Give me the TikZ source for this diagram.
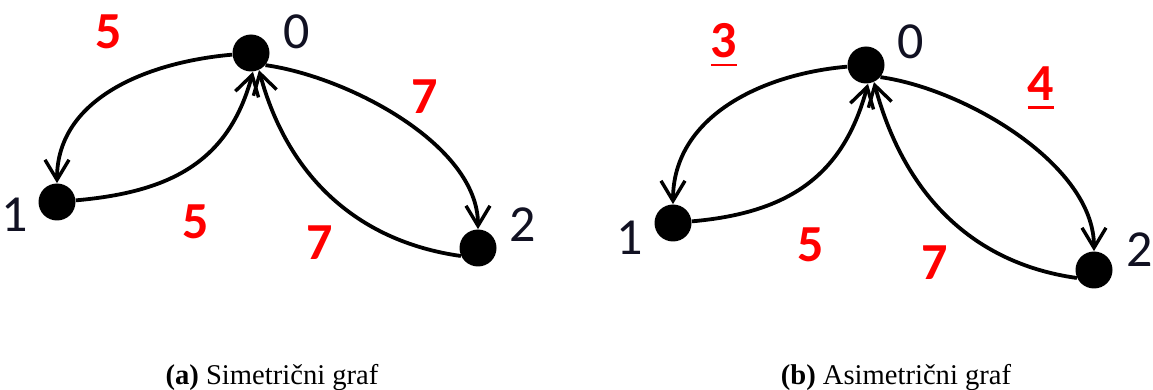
\documentclass[tikz,border=0pt]{standalone}
\usepackage{fontspec}
\setmainfont{Liberation Serif}
\newfontfamily\digitfont{Carlito}
\usepackage{xcolor}
\usetikzlibrary{arrows.meta}
\definecolor{ink}{HTML}{111122}
\definecolor{wred}{HTML}{FF0000}
\newcommand{\wline}[1]{\leavevmode\setbox0=\hbox{#1}\rlap{\copy0}\raisebox{-4.2pt}{\rule{\wd0}{1.3pt}}}
\tikzset{
  vert/.style={circle,fill=black,inner sep=0pt,minimum size=18.5pt},
  vlbl/.style={font=\digitfont\fontsize{26}{26}\selectfont,text=ink,inner sep=0pt},
  wlbl/.style={font=\digitfont\bfseries\fontsize{26}{26}\selectfont,text=wred,inner sep=0pt},
  arc/.style={-{Straight Barb[length=10pt,width=12pt,line width=1.7pt]},line width=1.9pt},
  caplbl/.style={font=\fontsize{14.3}{16}\selectfont,anchor=base,inner sep=0pt},
}

\begin{document}
\begin{tikzpicture}[x=0.5pt,y=0.5pt]
  \useasboundingbox (0,0) rectangle (1153,-390);

  % (a) symmetric graph
  \node[vert] (a0) at (251,-53) {};
  \node[vert] (a1) at (57,-202) {};
  \node[vert] (a2) at (478,-248) {};
  \node[vlbl] (a0l) at (297,-32) {0};
  \node[vlbl] (a1l) at (15,-215) {1};
  \node[vlbl] (a2l) at (523,-225) {2};
  \draw[arc] (a0.185) to[out=185,in=90] (a1.90);
  \draw[arc] (a1.5) to[out=5,in=255,looseness=1.1] (a0.276);
  \draw[arc] (a0.-40) to[out=-8,in=90,looseness=0.8] (a2.90);
  \draw[arc] (a2.205) to[out=172,in=-75] (a0.-65);
  \node[wlbl] (a01w) at (109,-32) {5};
  \node[wlbl] (a02w) at (425,-97) {7};
  \node[wlbl] (a10w) at (196,-222) {5};
  \node[wlbl] (a20w) at (320,-243) {7};
  \node[caplbl] (acap) at (272,-384) {\textbf{(a)} Simetrični graf};

  % (b) asymmetric graph
  \node[vert] (b0) at (866,-65) {};
  \node[vert] (b1) at (673,-223) {};
  \node[vert] (b2) at (1094,-270) {};
  \node[vlbl] (b0l) at (911,-42) {0};
  \node[vlbl] (b1l) at (630,-238) {1};
  \node[vlbl] (b2l) at (1140,-250) {2};
  \draw[arc] (b0.185) to[out=185,in=90] (b1.90);
  \draw[arc] (b1.5) to[out=5,in=255,looseness=1.1] (b0.276);
  \draw[arc] (b0.-40) to[out=-8,in=90,looseness=0.8] (b2.90);
  \draw[arc] (b2.205) to[out=172,in=-75] (b0.-65);
  \node[wlbl] (b01w) at (724,-45) {\wline{3}};
  \node[wlbl] (b02w) at (1041,-88) {\wline{4}};
  \node[wlbl] (b10w) at (811,-245) {5};
  \node[wlbl] (b20w) at (935,-263) {7};
  \node[caplbl] (bcap) at (896,-384) {\textbf{(b)} Asimetrični graf};
\end{tikzpicture}
\end{document}
